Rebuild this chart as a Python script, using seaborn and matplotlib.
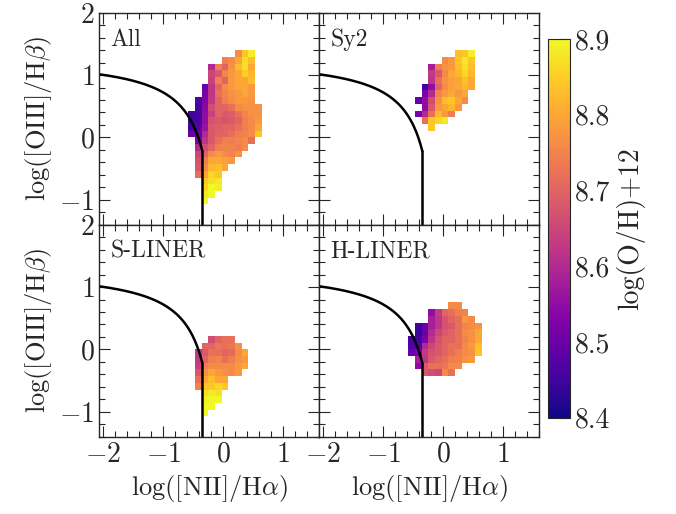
import numpy as np
import pandas as pd
import matplotlib
matplotlib.use("Agg")
import matplotlib.pyplot as plt
from matplotlib.ticker import MultipleLocator
import seaborn as sns

# bin grid of the maps (log([NII]/Ha) horizontally, log([OIII]/Hb) vertically)
x_first_edge = -0.583
x_bin = 0.111
n_cols = 11
y_top_edge = 1.398
y_bin = 0.1075
n_rows = 23

# log(O/H)+12 per bin, as hundredths above 8.00 ('..' = empty bin), rows from the top
all_rows = [
    ".. .. .. .. .. .. .. 76 84 89 ..",
    ".. .. .. .. .. 74 76 80 87 83 ..",
    ".. .. .. 60 74 70 77 83 87 80 ..",
    ".. .. .. 65 68 75 78 80 85 82 ..",
    ".. .. .. 64 74 70 78 80 80 83 ..",
    ".. .. 50 62 70 76 78 80 80 78 ..",
    ".. .. 52 62 72 75 77 78 80 78 ..",
    ".. 47 53 63 70 74 76 78 78 77 ..",
    ".. 46 54 66 70 70 72 76 77 77 77",
    "45 46 55 64 70 68 69 72 75 77 77",
    "45 46 55 67 68 67 68 70 74 76 78",
    "45 48 56 68 69 70 70 72 74 76 80",
    "50 50 60 68 70 70 72 74 75 76 84",
    ".. 52 62 68 72 74 74 75 76 72 ..",
    ".. 60 66 70 74 75 75 74 76 .. ..",
    ".. 65 70 76 78 76 75 77 .. .. ..",
    ".. 67 74 80 80 79 78 .. .. .. ..",
    ".. 68 76 82 83 80 .. .. .. .. ..",
    ".. 72 80 86 84 .. .. .. .. .. ..",
    ".. .. 84 87 88 .. .. .. .. .. ..",
    ".. .. 86 90 89 .. .. .. .. .. ..",
    ".. .. 88 90 .. .. .. .. .. .. ..",
    ".. .. 90 .. .. .. .. .. .. .. ..",
]

sy2_rows = [
    ".. .. .. .. .. .. .. 83 84 89 ..",
    ".. .. .. .. .. 76 78 84 88 84 ..",
    ".. .. .. 58 74 77 78 83 87 83 ..",
    ".. .. .. 63 68 76 80 82 86 82 ..",
    ".. .. .. 62 72 77 79 80 83 80 ..",
    ".. .. 45 55 70 76 79 80 82 80 ..",
    ".. .. 52 60 75 78 80 78 80 .. ..",
    ".. 50 55 66 77 83 84 80 76 .. ..",
    ".. .. 55 68 78 80 82 78 .. .. ..",
    ".. 52 60 72 82 78 74 .. .. .. ..",
    ".. .. 72 84 86 88 .. .. .. .. ..",
    ".. .. .. 84 .. .. .. .. .. .. ..",
]

sliner_first_row = 11
sliner_rows = [
    ".. .. .. 66 70 72 72 .. .. .. ..",
    ".. .. 70 70 73 72 73 77 .. .. ..",
    ".. 63 68 72 72 70 71 76 80 .. ..",
    ".. 63 70 74 75 72 74 77 78 .. ..",
    ".. 64 74 76 76 76 76 78 80 .. ..",
    ".. 68 77 80 78 77 76 78 .. .. ..",
    ".. 72 80 83 80 80 .. .. .. .. ..",
    ".. 75 84 84 86 84 .. .. .. .. ..",
    ".. .. 87 88 87 .. .. .. .. .. ..",
    ".. .. 89 90 90 .. .. .. .. .. ..",
    ".. .. 90 90 .. .. .. .. .. .. ..",
    ".. .. 90 .. .. .. .. .. .. .. ..",
]

hliner_first_row = 6
hliner_rows = [
    ".. .. .. .. .. .. 76 76 .. .. ..",
    ".. .. .. 55 63 70 72 74 75 .. ..",
    ".. .. .. 58 62 67 70 72 78 76 ..",
    ".. 45 50 58 62 67 68 72 75 76 77",
    ".. 44 50 60 65 68 70 72 76 77 80",
    "46 45 52 62 67 70 70 72 75 77 80",
    "47 48 60 65 68 70 72 72 76 78 83",
    "50 52 63 67 68 70 72 74 76 77 84",
    ".. 58 62 68 70 72 74 75 77 78 ..",
    ".. 55 68 72 72 73 76 76 .. .. ..",
    ".. .. 68 66 65 76 72 .. .. .. ..",
]

panel_names = ["All", "Sy2", "S-LINER", "H-LINER"]


def grid_to_frame(rows, first_row=0):
    recs = []
    for r, line in enumerate(rows):
        for c, tok in enumerate(line.split()):
            if tok == "..":
                continue
            xc = x_first_edge + (c + 0.5) * x_bin
            yc = y_top_edge - (first_row + r + 0.5) * y_bin
            recs.append((xc, yc, 8 + int(tok) / 100))
    return pd.DataFrame(recs, columns=["nii", "oiii", "oh"])


frames = [grid_to_frame(all_rows), grid_to_frame(sy2_rows),
          grid_to_frame(sliner_rows, sliner_first_row),
          grid_to_frame(hliner_rows, hliner_first_row)]

x_edges = x_first_edge + x_bin * np.arange(n_cols + 1)
y_edges = (y_top_edge - y_bin * np.arange(n_rows + 1))[::-1]

sns.set_style("ticks")
plt.rcParams["font.family"] = "serif"
plt.rcParams["font.serif"] = ["cmr10"]
plt.rcParams["mathtext.fontset"] = "cm"
plt.rcParams["axes.formatter.use_mathtext"] = True
plt.rcParams["axes.unicode_minus"] = True

fig = plt.figure(figsize=(6.76, 5.14), dpi=100)
W, H = 676, 514
pw, ph = 220, 212
lefts = [99.3, 319.3]
tops = [12.7, 224.7]
axes = []
for i in range(2):
    for j in range(2):
        ax = fig.add_axes([lefts[j] / W, 1 - (tops[i] + ph) / H, pw / W, ph / H])
        axes.append(ax)
cax = fig.add_axes([548.3 / W, 1 - 417.7 / H, 21.7 / W, 378.7 / H])

# Kauffmann et al. (2003) line, then straight down
xk = np.linspace(-2.07, -0.35, 200)
yk = 0.61 / (xk - 0.05) + 1.3

for k, ax in enumerate(axes):
    sns.histplot(data=frames[k], x="nii", y="oiii", weights="oh",
                 bins=(x_edges, y_edges), cmap="plasma", vmin=8.4, vmax=8.9,
                 ax=ax, cbar=(k == 0), cbar_ax=cax if k == 0 else None)
    ax.plot(xk, yk, color="black", lw=1.8)
    ax.plot([-0.35, -0.35], [yk[-1], -1.4], color="black", lw=1.8)
    ax.set_xlim(-2.07, 1.6)
    ax.set_ylim(-1.4, 2)
    ax.xaxis.set_major_locator(MultipleLocator(1))
    ax.xaxis.set_minor_locator(MultipleLocator(0.2))
    ax.yaxis.set_major_locator(MultipleLocator(1))
    ax.yaxis.set_minor_locator(MultipleLocator(0.2))
    ax.tick_params(which="both", direction="in", top=True, right=True,
                   labelsize=20, width=0.8)
    ax.tick_params(which="major", length=8)
    ax.tick_params(which="minor", length=4)
    for s in ax.spines.values():
        s.set_linewidth(1.0)
    ax.text(0.05, 0.925, panel_names[k], transform=ax.transAxes,
            fontsize=17, va="top", ha="left")
    if k < 2:
        ax.set_xticklabels([])
        ax.set_xlabel("")
    else:
        ax.set_xlabel(r"$\log([\mathrm{NII}]/\mathrm{H}\alpha)$", fontsize=19)
    if k % 2 == 1:
        ax.set_yticklabels([])
        ax.set_ylabel("")
    else:
        ax.set_ylabel(r"$\log([\mathrm{OIII}]/\mathrm{H}\beta)$", fontsize=19)

cax.set_ylabel("log(O/H)+12", fontsize=20)
cax.yaxis.set_major_locator(MultipleLocator(0.1))
cax.yaxis.set_minor_locator(MultipleLocator(0.02))
cax.tick_params(which="both", direction="in", labelsize=20, width=0.8)
cax.tick_params(which="major", length=8)
cax.tick_params(which="minor", length=4)
cax.set_yticks([8.4, 8.5, 8.6, 8.7, 8.8, 8.9])
cax.set_yticklabels(["8.4", "8.5", "8.6", "8.7", "8.8", "8.9"])

fig.savefig("out.png", dpi=100)
